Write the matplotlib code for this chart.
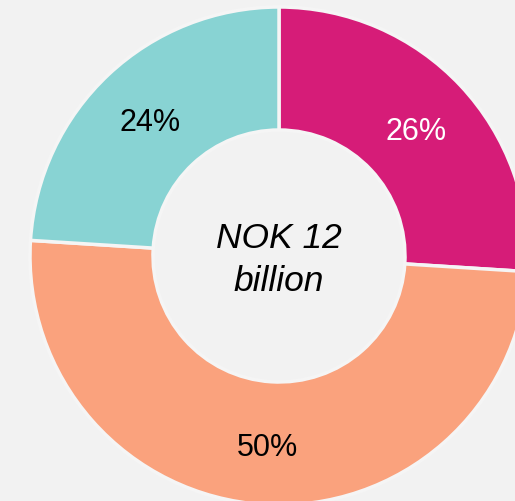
import matplotlib
matplotlib.use("Agg")
import matplotlib.pyplot as plt

labels = ["A", "B", "C"]
values = [26, 50, 24]
colors = ["#D61C78", "#FAA27D", "#88D3D3"]
label_colors = ["white", "black", "black"]
center_text = "NOK 12\nbillion"

fig = plt.figure(figsize=(5.15, 5.02), dpi=100, facecolor="#F2F2F2")
ax = fig.add_axes([0, 0, 1, 1])
ax.set_facecolor("#F2F2F2")

cx, cy, R = 279, 245, 249
wedges, texts, autotexts = ax.pie(
    values, colors=colors, startangle=90, counterclock=False,
    center=(cx, cy), radius=R, autopct="%d%%", pctdistance=0.755,
    wedgeprops=dict(width=R - 126, edgecolor="#F5F5F5", linewidth=2.5),
    textprops=dict(fontsize=22, family="Liberation Sans"),
)
for t, c in zip(autotexts, label_colors):
    t.set_color(c)
    t.set_va("center_baseline")

ax.text(cx, cy - 3, center_text, ha="center", va="center", fontsize=25.5,
        style="italic", family="Liberation Sans", linespacing=1.4)

ax.set_xlim(0, 515)
ax.set_ylim(0, 502)
ax.set_aspect("equal")
ax.axis("off")

fig.savefig("out.png", dpi=100, facecolor=fig.get_facecolor())
